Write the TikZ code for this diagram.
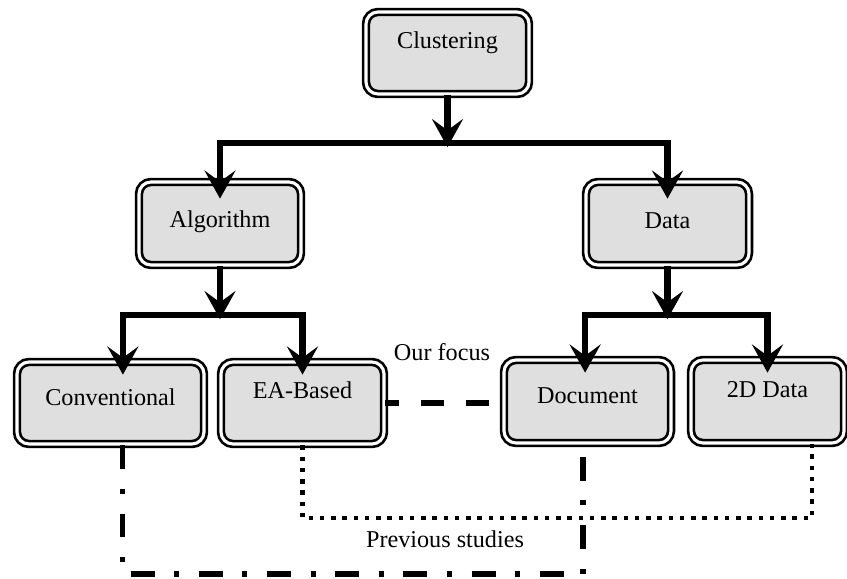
\documentclass[tikz,border=0pt]{standalone}
\usepackage{fontspec}
\setmainfont{Liberation Serif}
\usetikzlibrary{arrows.meta}
\tikzset{
  box/.style={draw, double, line width=1.9pt, double distance=2.2pt, fill=gray!25,
    rounded corners=0.3cm, font=\fontsize{17.2}{20}\selectfont,
    text height=0.42cm, text depth=#1, minimum height=2.05cm},
  box/.default=0.15cm,
  lbl/.style={font=\fontsize{17.2}{20}\selectfont},
  arr/.style={line width=4.4pt, -{Stealth[length=20pt,width=22pt,inset=8pt]}},
  focusline/.style={line width=3.8pt, dash pattern=on 17pt off 15pt, dash phase=7pt},
  dotline/.style={line width=3.5pt, dash pattern=on 3.2pt off 4.8pt},
  dashdotline/.style={line width=3.6pt, dash pattern=on 17pt off 14pt on 3.5pt off 14pt}
}
\begin{document}
\begin{tikzpicture}[x=0.025cm,y=-0.025cm]
      \useasboundingbox (0,0) rectangle (847,578);

      \node[box=0.65cm, minimum width=4.075cm] (clu) at (447.5,53) {Clustering};
      \node[box=0.2cm, minimum width=4.05cm, minimum height=2.075cm] (alg) at (220,223.5) {Algorithm};
      \node[box, minimum width=4.075cm, minimum height=2.075cm] (dat) at (667.5,223.5) {Data};
      \node[box=0.3cm, minimum width=4.675cm] (conv) at (110.5,403) {Conventional};
      \node[box=0.65cm, minimum width=4.075cm] (ea) at (302.5,403) {EA-Based};
      \node[box=0.3cm, minimum width=4.175cm, minimum height=2.075cm] (doc) at (587.5,401.5) {Document};
      \node[box=0.62cm, minimum width=3.825cm, minimum height=2.075cm] (twod) at (767.5,401.5) {2D Data};

      \node[lbl] (focus) at (442,352) {Our focus};
      \node[lbl] (prev) at (445,539) {Previous studies};

      \coordinate (b0) at (447.5,143);
      \coordinate (b1) at (220,315);
      \coordinate (b2) at (667.5,315);
      \coordinate (dt) at (812,518);
      \coordinate (dd) at (583,574);

      \draw[arr, shorten >=-3pt] (clu.south) -- (b0);
      \draw[arr] (b0) -| ([yshift=-0.45cm]alg.north);
      \draw[arr] (b0) -| ([yshift=-0.45cm]dat.north);

      \draw[arr, shorten >=-3pt] (alg.south) -- (b1);
      \draw[arr] (b1) -| ([xshift=0.31cm,yshift=-0.35cm]conv.north);
      \draw[arr] (b1) -| ([yshift=-0.35cm]ea.north);

      \draw[arr, shorten >=-3pt] (dat.south) -- (b2);
      \draw[arr] (b2) -| ([xshift=-0.06cm,yshift=-0.35cm]doc.north);
      \draw[arr] (b2) -| ([yshift=-0.35cm]twod.north);

      \draw[focusline] (ea.east) -- (ea.east -| doc.west);
      \draw[dotline] (ea.south) |- (dt) -- (dt |- twod.south);
      \draw[dashdotline] ([xshift=0.31cm]conv.south) |- (dd) -- (dd |- doc.south);
    \end{tikzpicture}
\end{document}
